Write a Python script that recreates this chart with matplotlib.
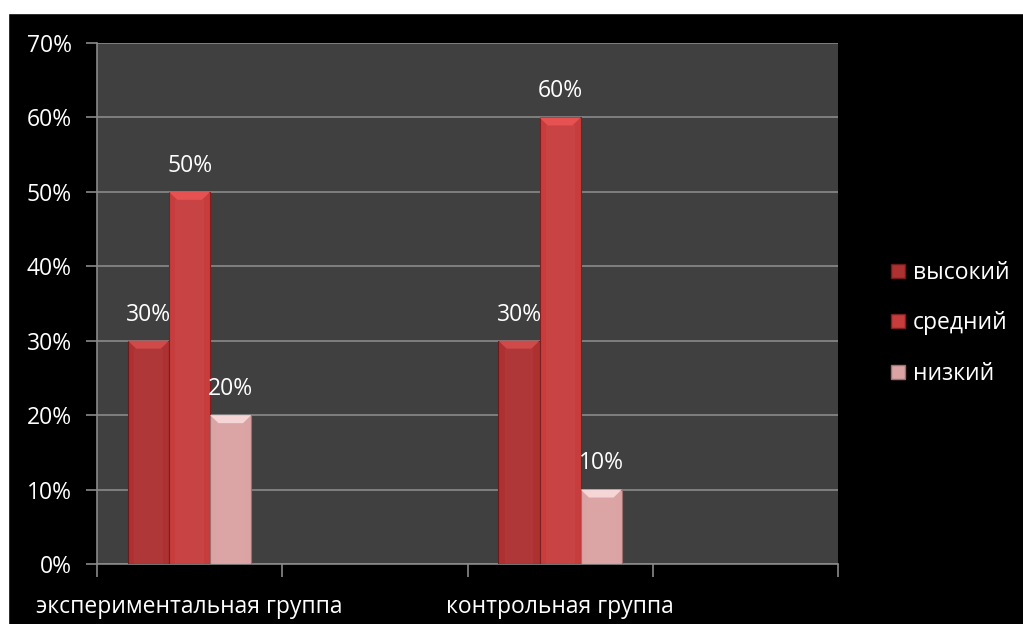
import matplotlib
matplotlib.use("Agg")
import matplotlib.pyplot as plt
import numpy as np
from matplotlib.patches import Rectangle, Polygon
from matplotlib.lines import Line2D

categories = ["экспериментальная группа", "", "контрольная группа", ""]
series_names = ["высокий", "средний", "низкий"]
vysokiy = [0.30, np.nan, 0.30, np.nan]
sredniy = [0.50, np.nan, 0.60, np.nan]
nizkiy = [0.20, np.nan, 0.10, np.nan]
yticks = [0.0, 0.1, 0.2, 0.3, 0.4, 0.5, 0.6, 0.7]
ytick_labels = ["0%", "10%", "20%", "30%", "40%", "50%", "60%", "70%"]

colors = ["#AD3131", "#C73D3D", "#DBA3A3"]
top_colors = ["#D04A4A", "#E65252", "#F5D5D5"]
edge_colors = ["#6E1A1A", "#7E1E1E", "#9A7070"]

plt.rcParams['font.family'] = ['Open Sans', 'DejaVu Sans']
FS = 16.5

fig = plt.figure(figsize=(10.23, 6.24), dpi=100, facecolor="black")
ax = fig.add_axes([0.0948, 0.0962, 0.8192 - 0.0948, 0.9311 - 0.0962])
ax.set_facecolor("#404040")

# white strips on top and left edges
fig.patches.append(Rectangle((0, 0), 8 / 1023, 1, transform=fig.transFigure, color="white", zorder=-1))
fig.patches.append(Rectangle((0, 1 - 13 / 624), 1, 13 / 624, transform=fig.transFigure, color="white", zorder=-1))

x = np.arange(len(categories))
bw = 0.222
offsets = [-bw, 0, bw]
ax.set_xlim(-0.5, len(categories) - 0.5)
ax.set_ylim(0, 0.7)

bevel_h = 0.7 * 8 / 521
for vals, off, c, tc, ec in zip([vysokiy, sredniy, nizkiy], offsets, colors, top_colors, edge_colors):
    bars = ax.bar(x + off, vals, width=bw, color=c, edgecolor=ec, linewidth=0.8, zorder=3)
    for b, v in zip(bars, vals):
        if np.isnan(v):
            continue
        x0, w, h = b.get_x(), b.get_width(), b.get_height()
        d = w * 0.2
        ax.add_patch(Polygon([(x0, h), (x0 + w, h), (x0 + w - d, h - bevel_h), (x0 + d, h - bevel_h)],
                             closed=True, facecolor=tc, edgecolor="none", zorder=4))
        ax.add_patch(Rectangle((x0 + w * 0.15, 0), w * 0.7, h - bevel_h, facecolor="white",
                               alpha=0.03, edgecolor="none", zorder=4))
        ax.text(x0 + w / 2, h + 0.019, f"{int(round(v * 100))}%", ha="center", va="bottom",
                color="white", fontsize=FS, zorder=5)

ax.set_yticks(yticks)
ax.set_yticklabels(ytick_labels, color="white", fontsize=FS)
ax.yaxis.grid(True, color="#8A8A8A", linewidth=1.2, zorder=1)
ax.set_axisbelow(True)

ax.set_xticks(np.arange(-0.5, len(categories)), minor=False)
ax.set_xticklabels([])
ax.set_xticks(x, minor=True)
ax.set_xticklabels(categories, minor=True, color="white", fontsize=FS)
ax.tick_params(axis="x", which="minor", length=0, pad=22)
ax.tick_params(axis="x", which="major", length=9, color="#8A8A8A", width=1.2)
ax.tick_params(axis="y", length=8, color="#8A8A8A", width=1.2, pad=10)

for s in ["top", "right"]:
    ax.spines[s].set_visible(False)
for s in ["left", "bottom"]:
    ax.spines[s].set_color("#8A8A8A")
    ax.spines[s].set_linewidth(1.2)

handles = [Line2D([0], [0], marker="s", linestyle="none", markersize=10,
                  markerfacecolor=c, markeredgecolor=ec) for c, ec in zip(colors, edge_colors)]
leg = fig.legend(handles, series_names, loc="center left", bbox_to_anchor=(0.850, 0.4816),
                 frameon=False, fontsize=FS, labelcolor="white", handlelength=0.7,
                 handletextpad=0.3, labelspacing=1.15)

fig.savefig("out.png", dpi=100, facecolor="black")
